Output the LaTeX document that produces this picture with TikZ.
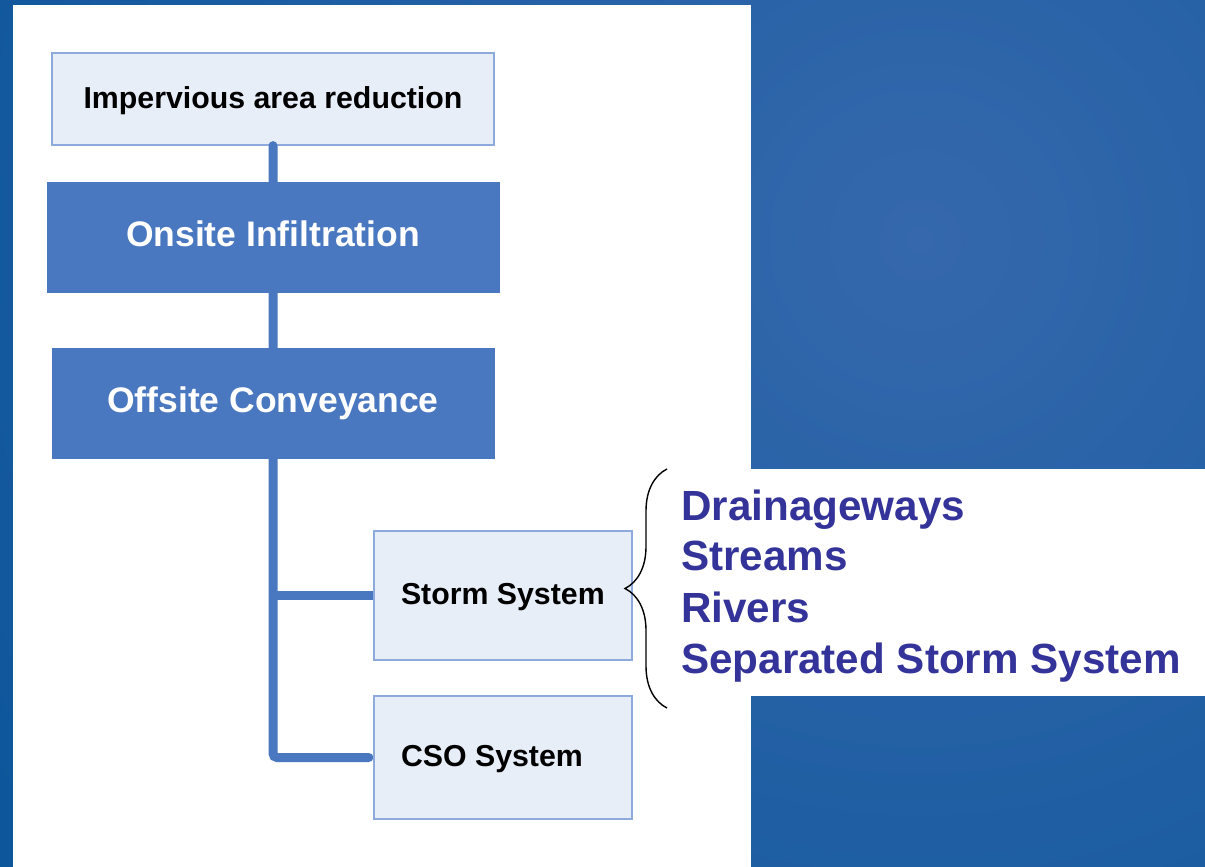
\documentclass[tikz,border=0pt]{standalone}
\usepackage{fontspec}
\setmainfont{Liberation Sans}
\usetikzlibrary{decorations.pathreplacing}
\pgfdeclarelayer{back}
\pgfdeclarelayer{mid}
\pgfsetlayers{back,mid,main}
\definecolor{bgout}{HTML}{0B559A}
\definecolor{bgin}{HTML}{3568AC}
\definecolor{lightfill}{HTML}{E8EEF8}
\definecolor{lightline}{HTML}{8EA9DB}
\definecolor{darkfill}{HTML}{4A78C0}
\definecolor{listblue}{HTML}{333399}
\begin{document}
\begin{tikzpicture}[x=1pt,y=-1pt,
  lightbox/.style={draw=lightline, line width=1.2pt, fill=lightfill, inner sep=0pt,
    text height=18pt, text depth=0pt, font=\bfseries\fontsize{30.3}{36}\selectfont},
  darkbox/.style={draw=darkfill, fill=darkfill, inner sep=0pt, text=white,
    text height=18pt, text depth=0pt, font=\bfseries\fontsize{35.5}{42}\selectfont},
  conn/.style={draw=darkfill, line width=9pt, line cap=round, rounded corners=4pt},
  listitem/.style={anchor=base west, inner sep=0pt, text=listblue,
    font=\bfseries\fontsize{42.2}{51}\selectfont},
  bracestyle/.style={draw=black, line width=1.4pt, decorate,
    decoration={brace, amplitude=42pt, aspect=0.5}}]
\useasboundingbox (0,0) rectangle (1205,867);
\begin{pgfonlayer}{back}
% background
\fill[bgout] (0,0) rectangle (1205,867);
\begin{scope}
  \clip (0,0) rectangle (1205,867);
  \shade[inner color=bgin, outer color=bgout] (920,240) circle (1150pt);
\end{scope}
\fill[white] (13,5) rectangle (751,867);
\fill[white] (700,469) rectangle (1205,696);
\node[lightbox, minimum width=442pt, minimum height=92pt] (imp) at (273,99) {Impervious area reduction};
\end{pgfonlayer}
% boxes
\node[darkbox, minimum width=452pt, minimum height=110pt] (onsite) at (273,237) {Onsite Infiltration};
\node[darkbox, minimum width=442pt, minimum height=110pt] (offsite) at (273,403) {Offsite Conveyance};
\node[lightbox, minimum width=258pt, minimum height=129pt] (storm) at (503,595.5) {\makebox[204pt][l]{Storm System}};
\node[lightbox, minimum width=258pt, minimum height=123pt] (cso) at (503,757.5) {\makebox[204pt][l]{CSO System}};
% connectors
\begin{pgfonlayer}{mid}
\draw[conn, shorten >=4.5pt] (imp.south) -- (imp.south |- cso.west) -- (cso.west);
\draw[conn, line cap=butt] (imp.south |- storm.west) -- (storm.west);
\end{pgfonlayer}
% brace
\coordinate (bb) at (667,708);
\coordinate (bt) at (667,469);
\draw[bracestyle] (bb) -- (bt);
% list
\node[listitem] (l1) at (681,520) {Drainageways};
\node[listitem] (l2) at (681,570) {Streams};
\node[listitem] (l3) at (681,622) {Rivers};
\node[listitem] (l4) at (681,673) {Separated Storm System};
\end{tikzpicture}
\end{document}
